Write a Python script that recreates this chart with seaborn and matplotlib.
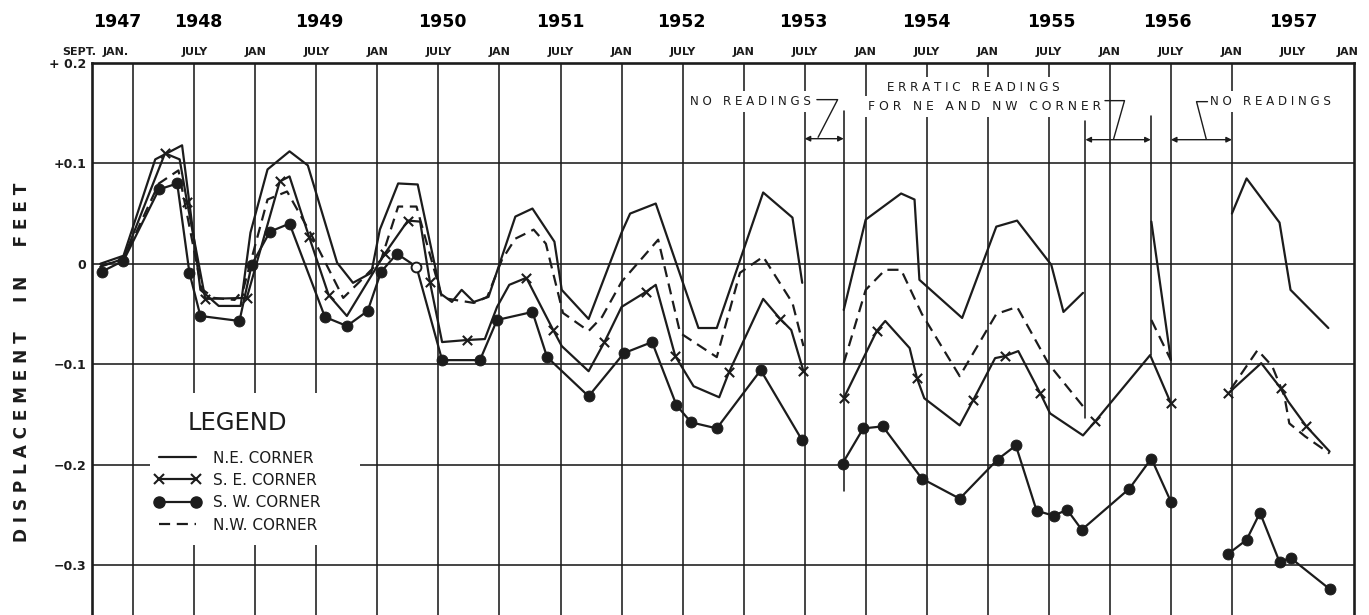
import numpy as np
import pandas as pd
import matplotlib
matplotlib.use("Agg")
import matplotlib.pyplot as plt
import seaborn as sns
from matplotlib.lines import Line2D
from matplotlib.patches import Rectangle

# ---------------- data (decimal year, displacement in feet); None = break in record
ne_t = [1947.73, 1947.92, 1948.18, 1948.40, 1948.55, 1948.70, 1948.88, 1948.96, 1949.10, 1949.28,
        1949.43, 1949.67, 1949.80, 1949.95, 1950.02, 1950.17, 1950.33, 1950.52, 1950.61, 1950.69,
        1950.79, 1950.91, 1951.13, 1951.27, 1951.45, 1951.51, 1951.73, 1952.00, 1952.07, 1952.28,
        1952.63, 1952.78, 1952.98, 1953.16, 1953.40, 1953.48, None,
        1953.82, 1954.00, 1954.29, 1954.40, 1954.44, 1954.79, 1955.07, 1955.24, 1955.52, 1955.62,
        1955.78, None, 1956.34, 1956.50, None, 1957.00, 1957.12, 1957.39, 1957.48, 1957.79]
ne_v = [0.000, 0.008, 0.104, 0.118, -0.026, -0.042, -0.042, 0.031, 0.094, 0.112,
        0.098, 0.001, -0.019, -0.009, 0.034, 0.080, 0.079, -0.030, -0.038, -0.026,
        -0.038, -0.033, 0.047, 0.055, 0.022, -0.026, -0.055, 0.031, 0.050, 0.060,
        -0.064, -0.064, 0.007, 0.071, 0.046, -0.019, None,
        -0.046, 0.044, 0.070, 0.064, -0.016, -0.054, 0.037, 0.043, -0.001, -0.048,
        -0.029, None, 0.042, -0.096, None, 0.050, 0.085, 0.041, -0.026, -0.064]

se_t = [1947.73, 1947.92, 1948.26, 1948.38, 1948.44, 1948.59, 1948.93, 1949.20, 1949.28, 1949.44,
        1949.60, 1949.75, 1950.06, 1950.25, 1950.35, 1950.43, 1950.53, 1950.73, 1950.88, 1950.98,
        1951.08, 1951.22, 1951.44, 1951.51, 1951.73, 1951.86, 1952.00, 1952.20, 1952.28, 1952.44,
        1952.59, 1952.80, 1952.88, 1953.16, 1953.30, 1953.39, 1953.49, None,
        1953.82, 1954.09, 1954.16, 1954.36, 1954.42, 1954.48, 1954.77, 1954.88, 1955.06, 1955.14,
        1955.25, 1955.43, 1955.51, 1955.78, 1955.88, 1956.33, 1956.50, None,
        1956.97, 1957.24, 1957.40, 1957.46, 1957.61, 1957.80]
se_v = [-0.003, 0.005, 0.110, 0.104, 0.062, -0.035, -0.034, 0.082, 0.087, 0.027,
        -0.031, -0.052, 0.010, 0.043, 0.042, -0.018, -0.078, -0.076, -0.075, -0.043,
        -0.021, -0.014, -0.066, -0.082, -0.107, -0.078, -0.043, -0.028, -0.021, -0.092,
        -0.122, -0.133, -0.108, -0.035, -0.055, -0.066, -0.107, None,
        -0.134, -0.067, -0.057, -0.084, -0.114, -0.134, -0.161, -0.136, -0.094, -0.092,
        -0.087, -0.129, -0.149, -0.171, -0.157, -0.091, -0.139, None,
        -0.129, -0.099, -0.124, -0.137, -0.162, -0.187]
se_mark = [0, 0, 1, 0, 1, 1, 1, 1, 0, 1,
           1, 0, 1, 1, 0, 1, 0, 1, 0, 0,
           0, 1, 1, 0, 0, 1, 0, 1, 0, 1,
           0, 0, 1, 0, 1, 0, 1, 0,
           1, 1, 0, 0, 1, 0, 0, 1, 0, 1,
           0, 1, 0, 0, 1, 0, 1, 0,
           1, 0, 1, 0, 1, 0]

sw_t = [1947.74, 1947.92, 1948.21, 1948.36, 1948.46, 1948.55, 1948.87, 1948.97, 1949.12, 1949.28,
        1949.57, 1949.75, 1949.92, 1950.03, 1950.16, 1950.32, 1950.53, 1950.84, 1950.98, 1951.27,
        1951.39, 1951.73, 1952.02, 1952.25, 1952.45, 1952.57, 1952.78, 1953.14, 1953.48, None,
        1953.81, 1953.98, 1954.14, 1954.46, 1954.77, 1955.08, 1955.23, 1955.40, 1955.54, 1955.65,
        1955.77, 1956.16, 1956.34, 1956.50, None,
        1956.97, 1957.12, 1957.23, 1957.39, 1957.48, 1957.80]
sw_v = [-0.008, 0.003, 0.074, 0.080, -0.009, -0.052, -0.057, -0.001, 0.032, 0.040,
        -0.053, -0.062, -0.047, -0.008, 0.010, -0.003, -0.096, -0.096, -0.056, -0.048,
        -0.093, -0.132, -0.089, -0.078, -0.141, -0.158, -0.164, -0.106, -0.176, None,
        -0.199, -0.164, -0.162, -0.214, -0.234, -0.195, -0.181, -0.246, -0.251, -0.245,
        -0.265, -0.224, -0.194, -0.237, None,
        -0.289, -0.275, -0.248, -0.297, -0.293, -0.324]
sw_open = [1950.32]

nw_t = [1947.73, 1947.92, 1948.21, 1948.37, 1948.56, 1948.66, 1948.83, 1948.90, 1949.10, 1949.26,
        1949.45, 1949.72, 1949.87, 1950.03, 1950.17, 1950.32, 1950.53, 1950.79, 1950.90, 1951.02,
        1951.13, 1951.28, 1951.38, 1951.52, 1951.73, 1951.84, 1952.00, 1952.30, 1952.48, 1952.78,
        1952.97, 1953.16, 1953.40, 1953.49, None,
        1953.82, 1954.00, 1954.16, 1954.29, 1954.46, 1954.77, 1955.07, 1955.24, 1955.50, 1955.78,
        None, 1956.34, 1956.50, None,
        1956.99, 1957.21, 1957.33, 1957.43, 1957.47, 1957.60, 1957.80]
nw_v = [-0.002, 0.004, 0.080, 0.093, -0.025, -0.034, -0.036, -0.026, 0.064, 0.072,
        0.031, -0.034, -0.016, 0.004, 0.057, 0.057, -0.034, -0.039, -0.033, 0.004,
        0.025, 0.034, 0.020, -0.049, -0.067, -0.053, -0.018, 0.024, -0.069, -0.093,
        -0.009, 0.007, -0.039, -0.082, None,
        -0.099, -0.026, -0.006, -0.006, -0.050, -0.112, -0.050, -0.043, -0.100, -0.142,
        None, -0.056, -0.096, None,
        -0.125, -0.086, -0.102, -0.132, -0.159, -0.172, -0.189]

series_names = ["N.E. CORNER", "S. E. CORNER", "S. W. CORNER", "N.W. CORNER"]

years = [1947, 1948, 1949, 1950, 1951, 1952, 1953, 1954, 1955, 1956, 1957]
year_pos = [1947.87, 1948.53, 1949.52, 1950.53, 1951.50, 1952.49, 1953.49, 1954.50, 1955.52, 1956.47, 1957.50]
month_labels = ["SEPT.", "JAN."] + ["JULY", "JAN"] * 10
month_pos = [1947.56, 1947.86] + [1948.5 + 0.5 * i for i in range(19)] + [1957.95]
ytick_vals = [0.2, 0.1, 0.0, -0.1, -0.2, -0.3]
ytick_labels = ["+ 0.2", "+0.1", "0", "\u22120.1", "\u22120.2", "\u22120.3"]

# ---------------- helpers
def frame(ts, vs):
    seg, rows = 0, []
    for t, v in zip(ts, vs):
        if t is None:
            seg += 1
            continue
        rows.append((t, v, seg))
    return pd.DataFrame(rows, columns=["t", "v", "seg"])

def spaced(s):
    return " ".join(list(s))

INK = "#1c1c1c"

sns.set_theme(style="white")
plt.rcParams["font.family"] = ["DejaVu Sans"]

fig = plt.figure(figsize=(13.69, 6.15), dpi=100)
fig.patch.set_facecolor("white")
ax = fig.add_axes([92 / 1369, 0.0, (1354 - 92) / 1369, 552 / 615])
ax.set_xlim(1947.662, 1958.0)
ax.set_ylim(-0.3499, 0.2)

# grid
vgrid = [y + h for y in range(1948, 1957) for h in (0.0, 0.5)] + [1957.0]
for x in vgrid:
    ax.axvline(x, color=INK, lw=1.15, zorder=1)
for y in [0.1, 0.0, -0.1, -0.2, -0.3]:
    ax.axhline(y, color=INK, lw=1.15, zorder=1)

def yfrac(v):
    return (v + 0.3499) / 0.5499

# partial boundary lines for gaps in record
for x, v0, v1 in [(1953.82, -0.226, 0.152), (1955.80, -0.154, 0.142), (1956.335, -0.091, 0.147)]:
    ax.axvline(x, ymin=yfrac(v0), ymax=yfrac(v1), color=INK, lw=1.15, zorder=1)

# white paste-up area behind the legend
ax.add_patch(Rectangle((0.046, 0.127), 0.166, 0.275, transform=ax.transAxes,
                       facecolor="white", edgecolor="none", zorder=2))

ne = frame(ne_t, ne_v)
se = frame(se_t, se_v)
sw = frame(sw_t, sw_v)
nw = frame(nw_t, nw_v)
se_flags = np.array([m for t, m in zip(se_t, se_mark) if t is not None]) == 1
se_m = se[se_flags]

lw = 1.6
sns.lineplot(data=ne, x="t", y="v", units="seg", estimator=None, sort=False,
             color=INK, lw=lw, ax=ax, zorder=3)
sns.lineplot(data=nw, x="t", y="v", units="seg", estimator=None, sort=False,
             color=INK, lw=lw, linestyle=(0, (5, 3)), ax=ax, zorder=3)
sns.lineplot(data=se, x="t", y="v", units="seg", estimator=None, sort=False,
             color=INK, lw=lw, ax=ax, zorder=3)
sns.scatterplot(data=se_m, x="t", y="v", marker="x", s=45, color=INK, linewidth=1.5, ax=ax, zorder=4)
sns.lineplot(data=sw, x="t", y="v", units="seg", estimator=None, sort=False,
             color=INK, lw=lw, ax=ax, zorder=3)
sw_fill = sw[~sw["t"].isin(sw_open)]
sw_hol = sw[sw["t"].isin(sw_open)]
sns.scatterplot(data=sw_fill, x="t", y="v", marker="o", s=62, color=INK, edgecolor=INK, ax=ax, zorder=5)
sns.scatterplot(data=sw_hol, x="t", y="v", marker="o", s=50, facecolor="white", edgecolor=INK,
                linewidth=1.4, ax=ax, zorder=5)

# axes styling
for side in ["top", "left", "right"]:
    ax.spines[side].set_visible(True)
    ax.spines[side].set_color(INK)
    ax.spines[side].set_linewidth(1.9)
ax.spines["bottom"].set_visible(False)
ax.set_xticks([])
ax.set_yticks(ytick_vals)
ax.set_yticklabels(ytick_labels, fontsize=9, fontweight="bold", color=INK)
ax.tick_params(axis="y", length=0, pad=4)
ax.set_xlabel("")
ax.set_ylabel("")

# top labels
xt = ax.get_xaxis_transform()
for lab, x in zip(month_labels, month_pos):
    ax.text(x, 1.0 + 11 / 552, lab, transform=xt, ha="center", va="center",
            fontsize=8, fontweight="bold", color=INK, clip_on=False)
for yr, x in zip(years, year_pos):
    ax.text(x, 1.0 + 41 / 552, str(yr), transform=xt, ha="center", va="center",
            fontsize=12.5, fontweight="bold", color="black", clip_on=False)

# y label
ax.text(-0.0555, 0.458, "D I S P L A C E M E N T     I N     F E E T", transform=ax.transAxes,
        rotation=90, ha="center", va="center", fontsize=12.2, fontweight="bold", color=INK)

# annotations
box = dict(facecolor="white", edgecolor="none", pad=3)
ax.text(1952.56, 0.1615, spaced("NO") + "   " + spaced("READINGS"), ha="left", va="center",
        fontsize=8.6, color=INK, bbox=box, zorder=2)
ax.text(1954.88, 0.1755, spaced("ERRATIC") + "   " + spaced("READINGS"), ha="center", va="center",
        fontsize=8.6, color=INK, bbox=box, zorder=2)
ax.text(1954.975, 0.1565, "F O R   N E   A N D   N W   C O R N E R", ha="center", va="center",
        fontsize=8.9, color=INK, bbox=box, zorder=2)
ax.text(1956.82, 0.1615, spaced("NO") + "   " + spaced("READINGS"), ha="left", va="center",
        fontsize=8.6, color=INK, bbox=box, zorder=2)

def leader(xs, ys):
    ax.plot(xs, ys, color=INK, lw=1.0, zorder=3)

leader([1953.60, 1953.77, 1953.61], [0.1635, 0.1635, 0.126])
leader([1955.96, 1956.12, 1956.03], [0.1625, 0.1625, 0.124])
leader([1956.80, 1956.71, 1956.79], [0.1615, 0.1615, 0.124])

arrow = dict(arrowstyle="<|-|>", color=INK, lw=1.0, mutation_scale=8, shrinkA=0, shrinkB=0)
ax.annotate("", xy=(1953.50, 0.1246), xytext=(1953.82, 0.1246), arrowprops=arrow)
ax.annotate("", xy=(1955.80, 0.1236), xytext=(1956.335, 0.1236), arrowprops=arrow)
ax.annotate("", xy=(1956.50, 0.1236), xytext=(1957.00, 0.1236), arrowprops=arrow)

# legend
handles = [
    Line2D([], [], color=INK, lw=lw),
    Line2D([], [], color=INK, lw=lw, marker="x", markersize=6.5, markeredgewidth=1.5),
    Line2D([], [], color=INK, lw=lw, marker="o", markersize=8),
    Line2D([], [], color=INK, lw=lw, linestyle=(0, (5, 3))),
]
leg = ax.legend(handles, series_names, title="LEGEND", loc="upper left",
                bbox_to_anchor=(0.0436, 0.383), frameon=False,
                fontsize=11, title_fontsize=17.5, handlelength=3.0, numpoints=2,
                labelspacing=0.48, borderpad=0.5, handletextpad=0.85, borderaxespad=0.0)
leg._legend_box.sep = 11
leg.set_zorder(6)
for txt in leg.get_texts():
    txt.set_color(INK)
leg.get_title().set_color(INK)

fig.savefig("out.png", dpi=100, facecolor="white")
